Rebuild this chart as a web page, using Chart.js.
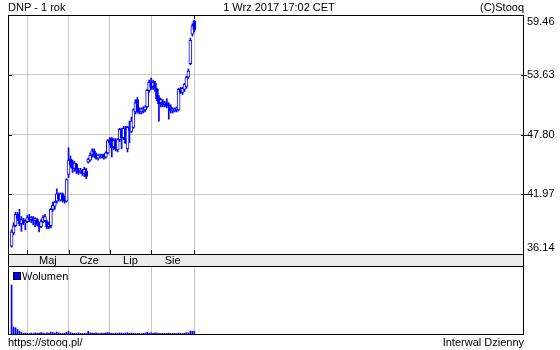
<!DOCTYPE html>
<html>
<head>
<meta charset="utf-8">
<script src="https://cdn.jsdelivr.net/npm/chart.js@4.4.0/dist/chart.umd.min.js"></script>
<style>
  body { margin: 0; background: #fff; }
  #wrap { position: relative; width: 560px; height: 350px; }
  canvas { position: absolute; left: 0; top: 0; }
</style>
</head>
<body>
<div id="wrap">
  <canvas id="price" width="560" height="350"></canvas>
  <canvas id="volume" width="560" height="350"></canvas>
</div>
<script>
// DNP daily candles, 19 Apr 2017 .. 1 Sep 2017 (x = trading day number)
const opens = [
  36.9, 38.2, 38.9, 40.0, 39.6, 39.1, 39.5, 39.2, 39.3, 39.7,
  39.5, 39.6, 39.4, 39.5, 39.1, 38.8, 39.3, 39.4, 39.3, 38.8,
  38.9, 40.5, 40.8, 41.3, 42.0, 41.4, 42.0, 41.4, 41.3, 43.9,
  45.4, 45.1, 44.5, 44.9, 44.3, 44.2, 44.3, 44.0, 44.2, 45.1,
  45.3, 45.8, 46.2, 45.8, 45.5, 45.7, 45.6, 45.8, 45.6, 46.0,
  47.2, 47.4, 46.6, 47.2, 46.3, 47.3, 48.2, 47.5, 48.4, 46.4,
  48.5, 48.1, 48.5, 50.0, 51.2, 50.2, 50.0, 50.1, 50.2, 50.5,
  52.1, 52.8, 52.5, 52.8, 52.2, 51.4, 50.9, 51.0, 50.7, 50.9,
  50.7, 50.5, 50.1, 50.1, 50.2, 50.2, 52.2, 51.9, 52.2, 52.5,
  53.4, 54.7, 57.6, 58.9,
];
const highs = [
  38.5, 39.2, 40.2, 40.2, 40.5, 39.8, 39.6, 39.5, 39.9, 40.0,
  39.8, 39.8, 39.7, 39.6, 39.2, 39.5, 39.9, 40.0, 39.4, 39.2,
  40.6, 41.2, 41.3, 42.5, 42.1, 42.1, 42.1, 41.8, 43.5, 46.5,
  45.7, 45.3, 45.2, 45.0, 44.5, 44.5, 44.4, 44.6, 44.5, 45.5,
  46.0, 46.4, 46.4, 46.0, 45.9, 45.9, 45.9, 45.9, 46.1, 47.3,
  47.5, 47.5, 47.4, 47.4, 47.4, 48.4, 48.4, 48.6, 48.6, 48.6,
  49.1, 49.5, 50.3, 51.2, 51.4, 50.4, 50.4, 50.5, 50.6, 52.2,
  53.1, 53.3, 53.1, 53.0, 52.3, 51.6, 51.3, 51.2, 51.0, 51.3,
  50.9, 50.7, 50.4, 50.4, 50.5, 52.3, 52.4, 52.4, 52.8, 53.5,
  54.2, 57.2, 58.6, 58.95,
];
const lows = [
  36.8, 38.0, 38.8, 39.4, 38.9, 38.35, 39.0, 38.5, 39.2, 39.3,
  39.2, 39.0, 38.8, 38.9, 38.3, 38.7, 39.2, 39.3, 38.6, 38.6,
  38.7, 40.3, 40.5, 41.1, 41.3, 41.3, 41.2, 41.1, 41.2, 43.6,
  44.6, 44.1, 44.2, 44.0, 43.9, 44.0, 43.8, 43.7, 43.5, 45.0,
  45.2, 45.6, 45.6, 45.4, 45.3, 45.5, 45.5, 45.4, 45.5, 45.9,
  46.8, 45.6, 46.3, 46.2, 46.1, 47.1, 46.4, 47.3, 46.9, 46.1,
  47.0, 48.0, 48.4, 49.8, 49.9, 49.8, 49.8, 49.9, 50.0, 50.4,
  51.9, 52.2, 52.2, 52.0, 51.1, 49.1, 50.5, 50.5, 50.5, 50.4,
  49.3, 49.9, 49.9, 50.0, 50.0, 50.1, 51.8, 51.7, 52.0, 52.3,
  53.3, 54.6, 57.4, 57.8,
];
const closes = [
  38.3, 38.9, 40.0, 39.6, 39.1, 39.5, 39.2, 39.3, 39.7, 39.5,
  39.7, 39.4, 39.6, 39.1, 38.8, 39.3, 39.7, 39.8, 38.8, 39.0,
  40.5, 40.9, 41.2, 42.0, 41.5, 42.0, 41.4, 41.3, 43.4, 45.3,
  44.8, 44.5, 45.0, 44.3, 44.1, 44.3, 44.0, 44.4, 43.7, 45.4,
  45.8, 46.2, 45.8, 45.5, 45.8, 45.7, 45.8, 45.6, 46.0, 47.2,
  47.0, 46.5, 47.2, 46.4, 47.3, 48.3, 47.5, 48.4, 47.0, 48.5,
  48.2, 49.1, 50.2, 50.9, 50.1, 50.0, 50.3, 50.3, 50.5, 52.1,
  52.9, 52.4, 52.9, 52.3, 51.3, 50.8, 51.2, 50.7, 50.9, 50.6,
  50.6, 50.1, 50.3, 50.3, 50.4, 52.2, 51.9, 52.3, 52.7, 53.4,
  54.0, 57.0, 58.4, 58.0,
];
const volumes = [
  4900, 700, 620, 450, 300, 150, 70, 100, 60, 50,
  90, 40, 110, 60, 80, 150, 90, 50, 120, 70,
  180, 130, 90, 200, 110, 60, 50, 90, 150, 240,
  120, 80, 70, 50, 100, 60, 40, 80, 60, 280,
  120, 90, 60, 110, 70, 50, 90, 60, 110, 130,
  100, 70, 50, 90, 60, 110, 80, 60, 100, 120,
  70, 110, 80, 60, 50, 70, 40, 60, 90, 160,
  100, 120, 70, 110, 80, 60, 50, 70, 40, 60,
  90, 50, 60, 70, 40, 100, 60, 50, 70, 120,
  110, 300, 280, 260,
];
const monthStarts = [8, 29, 50, 71, 93];   // first trading day of May..Sep
const monthLabels = ["Maj", "Cze", "Lip", "Sie"];
const priceTicks = [36.14, 41.97, 47.80, 53.63, 59.46];

const BLUE = "#0000ff";
const GRID = "#c8c8c8";
const FONT = "11px 'Liberation Sans', Arial, sans-serif";
const X_MIN = -1.82, X_MAX = 260.8;

const days = opens.map((_, i) => i);
const bodies = days.map((i) => ({ x: i, y: [opens[i], closes[i]] }));
const wicks = days.map((i) => ({ x: i, y: [lows[i], highs[i]] }));

function xAxis() {
  return {
    type: "linear", min: X_MIN, max: X_MAX, offset: false,
    afterBuildTicks: (s) => { s.ticks = monthStarts.map((v) => ({ value: v })); },
    afterFit: (s) => { s.height = 0; },
    ticks: { display: false },
    border: { display: false },
    grid: { color: GRID, drawTicks: false, offset: false },
  };
}

// frame, band, labels and captions around the plots
const frame = {
  id: "frame",
  afterDraw(chart) {
    const { ctx, chartArea: a, scales } = chart;
    const L = a.left, R = a.right - 1, T = a.top, B = a.bottom;
    const bandB = B + 12, volB = 334;
    ctx.save();
    ctx.fillStyle = "#ececec";
    ctx.fillRect(L, B, R - L, bandB - B);

    ctx.strokeStyle = "#000";
    ctx.lineWidth = 1;
    ctx.beginPath();
    [T, B, bandB, volB].forEach((y) => { ctx.moveTo(L, y + 0.5); ctx.lineTo(R + 1, y + 0.5); });
    [L, R].forEach((x) => { ctx.moveTo(x + 0.5, T); ctx.lineTo(x + 0.5, volB + 1); });
    // y ticks
    priceTicks.slice(1, -1).forEach((v) => {
      const y = Math.round(scales.y.getPixelForValue(v)) + 0.5;
      ctx.moveTo(L, y); ctx.lineTo(L + 4, y);
      ctx.moveTo(R - 2, y); ctx.lineTo(R + 4, y);
    });
    // month ticks on the bottom edge, and today's mark on the top
    monthStarts.forEach((m) => {
      const x = Math.round(scales.x.getPixelForValue(m)) + 0.5;
      ctx.moveTo(x, B - 4); ctx.lineTo(x, B);
    });
    const xl = Math.round(scales.x.getPixelForValue(monthStarts[monthStarts.length - 1])) + 0.5;
    ctx.moveTo(xl, T); ctx.lineTo(xl, T + 4);
    ctx.stroke();

    ctx.font = FONT;
    ctx.fillStyle = "#000";
    ctx.textBaseline = "middle";

    ctx.textAlign = "left";
    priceTicks.forEach((v) => {
      const y = Math.min(Math.max(scales.y.getPixelForValue(v), T + 7), B - 6);
      ctx.fillText(v.toFixed(2), R + 4, y);
    });

    ctx.textAlign = "center";
    monthLabels.forEach((lab, i) => {
      const x = scales.x.getPixelForValue((monthStarts[i] + monthStarts[i + 1]) / 2);
      ctx.fillText(lab, x, B + 6.5);
    });
    ctx.fillText("1 Wrz 2017 17:02 CET", 279, 7.5);

    ctx.textAlign = "left";
    ctx.fillText("DNP - 1 rok", L, 7.5);
    ctx.fillText("https://stooq.pl/", L, 343);
    ctx.fillText("Wolumen", 22, 276.5);
    ctx.textAlign = "right";
    ctx.fillText("(C)Stooq", R + 1, 7.5);
    ctx.fillText("Interwal Dzienny", R + 1, 343);

    // volume legend swatch
    ctx.fillStyle = BLUE;
    ctx.fillRect(14, 273, 6, 6);
    ctx.strokeStyle = "#000";
    ctx.strokeRect(13.5, 272.5, 7, 7);
    ctx.restore();
  },
};

new Chart(document.getElementById("price"), {
  type: "bar",
  data: {
    datasets: [
      {
        data: wicks, backgroundColor: BLUE, borderWidth: 0,
        barThickness: 1, grouped: false, order: 2,
      },
      {
        data: bodies,
        backgroundColor: days.map((i) => (closes[i] >= opens[i] ? "#ffffff" : BLUE)),
        borderColor: BLUE, borderWidth: 1, borderSkipped: false,
        barThickness: 3, minBarLength: 1, grouped: false, order: 1,
      },
    ],
  },
  options: {
    responsive: false, animation: false, devicePixelRatio: 1,
    layout: { padding: { left: 8, top: 15, right: 0, bottom: 96 } },
    plugins: { legend: { display: false }, tooltip: { enabled: false } },
    scales: {
      x: xAxis(),
      y: {
        position: "right", min: priceTicks[0], max: priceTicks[priceTicks.length - 1],
        afterBuildTicks: (s) => { s.ticks = priceTicks.slice(1, -1).map((v) => ({ value: v })); },
        afterFit: (s) => { s.width = 36; },
        ticks: { display: false },
        border: { display: false },
        grid: { color: GRID, drawTicks: false },
      },
    },
  },
  plugins: [frame],
});

new Chart(document.getElementById("volume"), {
  type: "bar",
  data: {
    datasets: [
      {
        data: days.map((i) => ({ x: i, y: volumes[i] })),
        backgroundColor: BLUE, borderWidth: 0, barThickness: 1,
      },
    ],
  },
  options: {
    responsive: false, animation: false, devicePixelRatio: 1,
    layout: { padding: { left: 8, top: 267, right: 36, bottom: 16 } },
    plugins: { legend: { display: false }, tooltip: { enabled: false } },
    scales: {
      x: xAxis(),
      y: { display: false, min: 0, max: 6700 },
    },
  },
});
</script>
</body>
</html>
